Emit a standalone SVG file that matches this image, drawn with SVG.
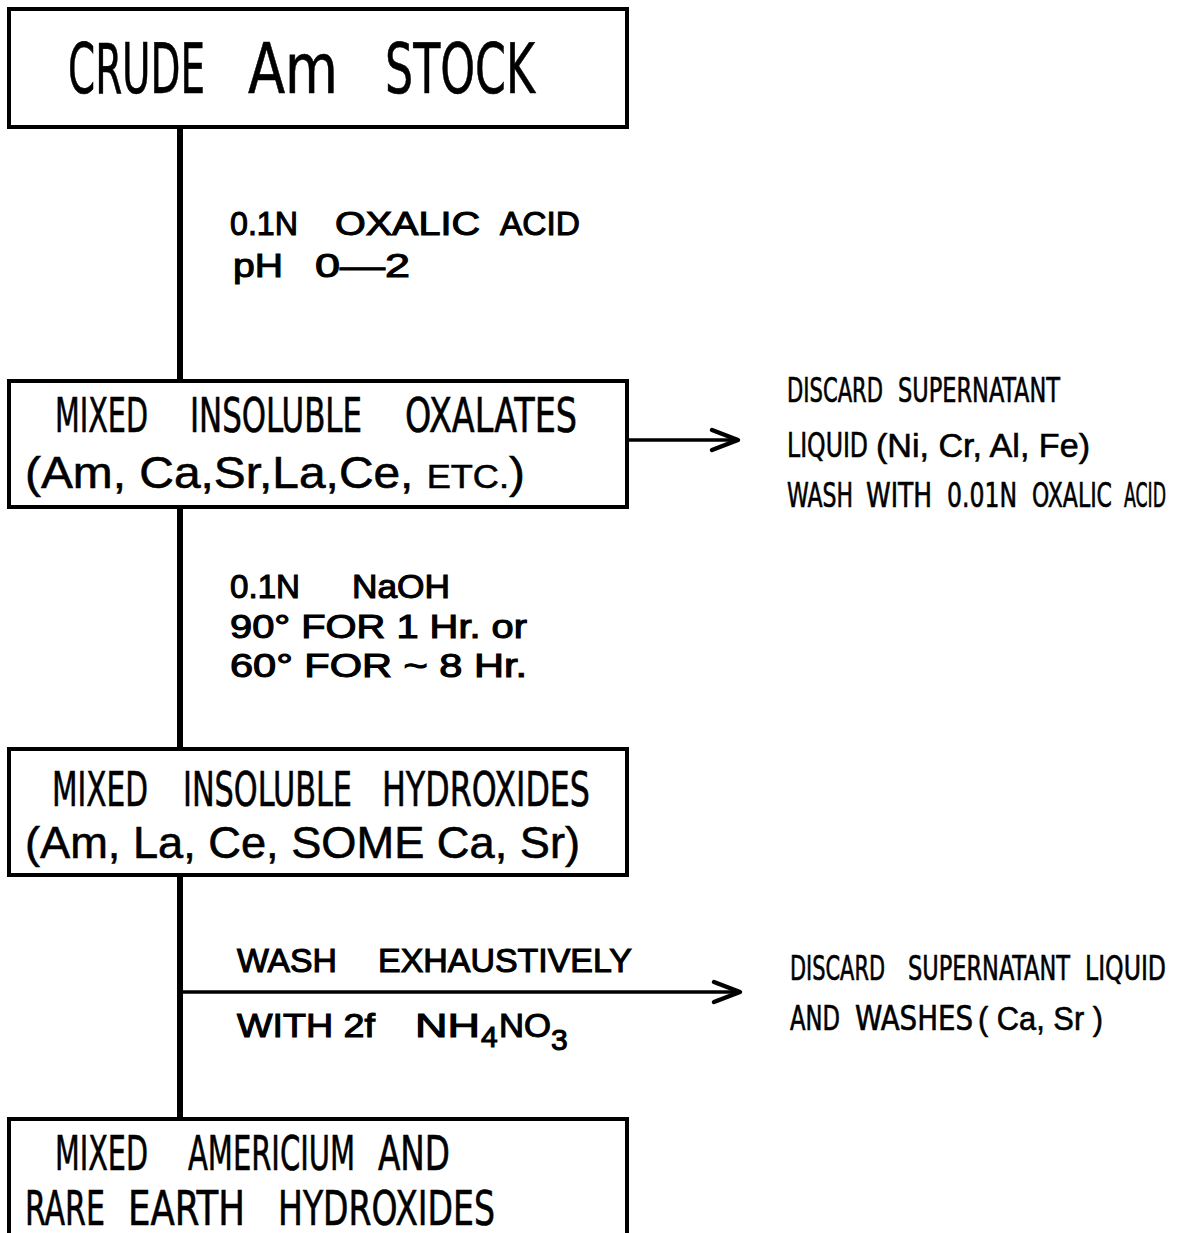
<svg xmlns="http://www.w3.org/2000/svg" width="1184" height="1233" viewBox="0 0 1184 1233">
<style>
.box{fill:#fff;stroke:#000;stroke-width:4}
.ln{stroke:#000;stroke-width:6;fill:none}
.hl{stroke:#000;stroke-width:3.5;fill:none}
.ah{stroke:#000;stroke-width:4.5;fill:none;stroke-linecap:round;stroke-linejoin:round}
.t{font-family:"Liberation Sans",Arial,sans-serif;fill:#000;stroke:#000;stroke-width:0.6}
.c{font-family:"Liberation Sans Narrow","DejaVu Sans Condensed","Liberation Sans",sans-serif;fill:#000;stroke:#000;stroke-width:0.6}
.lab{font-family:"Liberation Sans",Arial,sans-serif;fill:#000;stroke:#000;stroke-width:1.1}
</style>
<rect width="1184" height="1233" fill="#fff"/>
<g id="connectors">
<line class="ln" x1="180" y1="127" x2="180" y2="380"/>
<line class="ln" x1="180" y1="507" x2="180" y2="748"/>
<line class="ln" x1="180" y1="875" x2="180" y2="1118"/>
<line class="hl" x1="627" y1="440" x2="738" y2="440"/>
<polyline class="ah" points="712,430 738,440 712,450"/>
<line class="hl" x1="180" y1="992" x2="740" y2="992"/>
<polyline class="ah" points="714,982 740,992 714,1002"/>
</g>
<g id="crude">
<rect class="box" x="9" y="9" width="618" height="118"/>
<text class="c" x="68" y="93" font-size="70" textLength="137" lengthAdjust="spacingAndGlyphs">CRUDE</text>
<text class="c" x="248" y="93" font-size="70" textLength="90" lengthAdjust="spacingAndGlyphs">Am</text>
<text class="c" x="385" y="93" font-size="70" textLength="150" lengthAdjust="spacingAndGlyphs">STOCK</text>
</g>
<g id="lbl1">
<text class="lab" x="230" y="235" font-size="34" textLength="68" lengthAdjust="spacingAndGlyphs">0.1N</text>
<text class="lab" x="335" y="235" font-size="34" textLength="145" lengthAdjust="spacingAndGlyphs">OXALIC</text>
<text class="lab" x="500" y="235" font-size="34" textLength="80" lengthAdjust="spacingAndGlyphs">ACID</text>
<text class="lab" x="233" y="277" font-size="34" textLength="50" lengthAdjust="spacingAndGlyphs">pH</text>
<text class="lab" x="315" y="277" font-size="34" textLength="95" lengthAdjust="spacingAndGlyphs">0—2</text>
</g>
<g id="oxalates">
<rect class="box" x="9" y="381" width="618" height="126"/>
<text class="c" x="55" y="432" font-size="48" textLength="93" lengthAdjust="spacingAndGlyphs">MIXED</text>
<text class="c" x="190" y="432" font-size="48" textLength="172" lengthAdjust="spacingAndGlyphs">INSOLUBLE</text>
<text class="c" x="405" y="432" font-size="48" textLength="172" lengthAdjust="spacingAndGlyphs">OXALATES</text>
<text class="t" x="25" y="488" font-size="45" textLength="500" lengthAdjust="spacingAndGlyphs">(Am, Ca,Sr,La,Ce, <tspan font-size="34">ETC.</tspan>)</text>
</g>
<g id="discard1">
<text class="c" x="787" y="402" font-size="33" textLength="96" lengthAdjust="spacingAndGlyphs">DISCARD</text>
<text class="c" x="898" y="402" font-size="33" textLength="162" lengthAdjust="spacingAndGlyphs">SUPERNATANT</text>
<text class="c" x="787" y="457" font-size="33" textLength="81" lengthAdjust="spacingAndGlyphs">LIQUID</text>
<text class="t" x="876" y="457" font-size="33" textLength="214" lengthAdjust="spacingAndGlyphs">(Ni, Cr, Al, Fe)</text>
<text class="c" x="787" y="507" font-size="33" textLength="66" lengthAdjust="spacingAndGlyphs">WASH</text>
<text class="c" x="866" y="507" font-size="33" textLength="66" lengthAdjust="spacingAndGlyphs">WITH</text>
<text class="c" x="947" y="507" font-size="33" textLength="70" lengthAdjust="spacingAndGlyphs">0.01N</text>
<text class="c" x="1032" y="507" font-size="33" textLength="80" lengthAdjust="spacingAndGlyphs">OXALIC</text>
<text class="c" x="1124" y="507" font-size="33" textLength="42" lengthAdjust="spacingAndGlyphs">ACID</text>
</g>
<g id="lbl2">
<text class="lab" x="230" y="598" font-size="33" textLength="70" lengthAdjust="spacingAndGlyphs">0.1N</text>
<text class="lab" x="352" y="598" font-size="33" textLength="98" lengthAdjust="spacingAndGlyphs">NaOH</text>
<text class="lab" x="230" y="638" font-size="33" textLength="297" lengthAdjust="spacingAndGlyphs">90° FOR 1 Hr. or</text>
<text class="lab" x="230" y="677" font-size="33" textLength="297" lengthAdjust="spacingAndGlyphs">60° FOR ~ 8 Hr.</text>
</g>
<g id="hydroxides">
<rect class="box" x="9" y="749" width="618" height="126"/>
<text class="c" x="52" y="806" font-size="48" textLength="96" lengthAdjust="spacingAndGlyphs">MIXED</text>
<text class="c" x="183" y="806" font-size="48" textLength="169" lengthAdjust="spacingAndGlyphs">INSOLUBLE</text>
<text class="c" x="382" y="806" font-size="48" textLength="208" lengthAdjust="spacingAndGlyphs">HYDROXIDES</text>
<text class="t" x="25" y="858" font-size="45" textLength="555" lengthAdjust="spacingAndGlyphs">(Am, La, Ce, SOME Ca, Sr)</text>
</g>
<g id="lbl3">
<text class="lab" x="237" y="972" font-size="33" textLength="100" lengthAdjust="spacingAndGlyphs">WASH</text>
<text class="lab" x="378" y="972" font-size="33" textLength="254" lengthAdjust="spacingAndGlyphs">EXHAUSTIVELY</text>
<text class="lab" x="237" y="1037" font-size="33" textLength="138" lengthAdjust="spacingAndGlyphs">WITH  2f</text>
<text class="lab" x="415" y="1037" font-size="33" textLength="65" lengthAdjust="spacingAndGlyphs">NH</text>
<text class="lab" x="481" y="1047" font-size="30">4</text>
<text class="lab" x="499" y="1037" font-size="33" textLength="52" lengthAdjust="spacingAndGlyphs">NO</text>
<text class="lab" x="551" y="1050" font-size="30">3</text>
</g>
<g id="discard2">
<text class="c" x="790" y="980" font-size="33" textLength="95" lengthAdjust="spacingAndGlyphs">DISCARD</text>
<text class="c" x="908" y="980" font-size="33" textLength="162" lengthAdjust="spacingAndGlyphs">SUPERNATANT</text>
<text class="c" x="1085" y="980" font-size="33" textLength="81" lengthAdjust="spacingAndGlyphs">LIQUID</text>
<text class="c" x="790" y="1030" font-size="33" textLength="50" lengthAdjust="spacingAndGlyphs">AND</text>
<text class="c" x="855" y="1030" font-size="33" textLength="118" lengthAdjust="spacingAndGlyphs">WASHES</text>
<text class="t" x="978" y="1030" font-size="33" textLength="125" lengthAdjust="spacingAndGlyphs">( Ca,  Sr )</text>
</g>
<g id="final">
<rect class="box" x="9" y="1119" width="618" height="130"/>
<text class="c" x="55" y="1170" font-size="48" textLength="93" lengthAdjust="spacingAndGlyphs">MIXED</text>
<text class="c" x="188" y="1170" font-size="48" textLength="167" lengthAdjust="spacingAndGlyphs">AMERICIUM</text>
<text class="c" x="378" y="1170" font-size="48" textLength="72" lengthAdjust="spacingAndGlyphs">AND</text>
<text class="c" x="25" y="1225" font-size="48" textLength="80" lengthAdjust="spacingAndGlyphs">RARE</text>
<text class="c" x="128" y="1225" font-size="48" textLength="117" lengthAdjust="spacingAndGlyphs">EARTH</text>
<text class="c" x="278" y="1225" font-size="48" textLength="217" lengthAdjust="spacingAndGlyphs">HYDROXIDES</text>
</g>
</svg>
